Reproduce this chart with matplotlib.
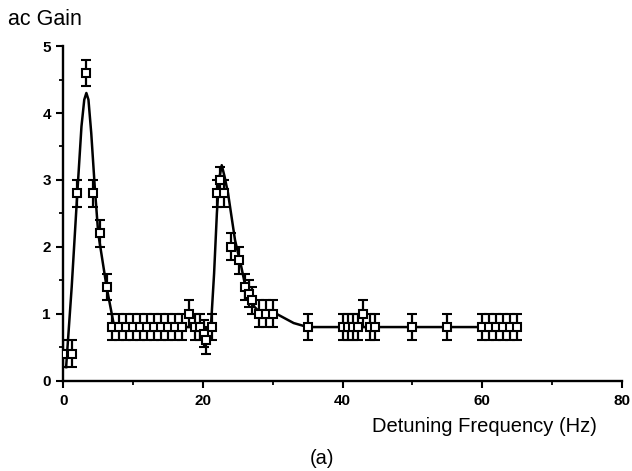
import matplotlib
matplotlib.use("Agg")
import matplotlib.pyplot as plt
from matplotlib.ticker import MultipleLocator

plt.rcParams['font.family'] = ['Liberation Sans', 'DejaVu Sans']

# measured points (detuning frequency in Hz, ac gain)
freq = [0, 1.2, 2.0, 3.3, 4.2, 5.2, 6.2,
        7, 8, 9, 10, 11, 12, 13, 14, 15, 16, 17,
        18, 18.8, 19.6, 20.1, 20.5, 21.3,
        22.0, 22.5, 23.0, 24.0, 25.2, 26.0, 26.6, 27.1, 28.1, 29.0, 30.0,
        35, 40, 40.8, 41.5, 42.2, 43.0, 43.9, 44.6, 50, 55,
        60, 61, 62, 63, 64, 65]
gain = [0.4, 0.4, 2.8, 4.6, 2.8, 2.2, 1.4,
        0.8, 0.8, 0.8, 0.8, 0.8, 0.8, 0.8, 0.8, 0.8, 0.8, 0.8,
        1.0, 0.8, 0.8, 0.7, 0.6, 0.8,
        2.8, 3.0, 2.8, 2.0, 1.8, 1.4, 1.3, 1.2, 1.0, 1.0, 1.0,
        0.8, 0.8, 0.8, 0.8, 0.8, 1.0, 0.8, 0.8, 0.8, 0.8,
        0.8, 0.8, 0.8, 0.8, 0.8, 0.8]
gain_err = [0.2] * len(freq)

# fitted curve
curve_x = [0.4, 1.2, 2.0, 2.6, 3.0, 3.3, 3.6, 4.0, 4.5, 5.0, 6.2, 7.3,
           12, 19, 20.5, 20.9, 21.2, 21.6, 22.0, 22.3, 22.7, 23.1, 23.6,
           24.6, 25.5, 26.2, 27.4, 28.4, 30.5, 33, 35, 50, 65]
curve_y = [0.2, 1.4, 2.8, 3.8, 4.2, 4.3, 4.2, 3.7, 2.9, 2.2, 1.4, 0.8,
           0.8, 0.8, 0.75, 0.75, 0.9, 1.6, 2.5, 3.0, 3.22, 3.05, 2.8,
           2.1, 1.7, 1.35, 1.1, 1.0, 1.0, 0.86, 0.8, 0.8, 0.8]

x_ticks = [0, 20, 40, 60, 80]
y_ticks = [0, 1, 2, 3, 4, 5]

fig = plt.figure(figsize=(6.32, 4.71), dpi=100)
ax = fig.add_axes([0.1002, 0.192, 0.8835, 0.710])

ax.plot(curve_x, curve_y, color='black', lw=1.8, zorder=2)
ax.errorbar(freq, gain, yerr=gain_err, fmt='s', mfc='white', mec='black',
            mew=1.5, ms=5.8, ecolor='black', elinewidth=1.6, capsize=3.5,
            capthick=1.6, zorder=3)

ax.set_xlim(0, 80)
ax.set_ylim(0, 5)
ax.set_xticks(x_ticks)
ax.set_yticks(y_ticks)
ax.xaxis.set_minor_locator(MultipleLocator(10))
ax.yaxis.set_minor_locator(MultipleLocator(0.5))
for s in ['top', 'right']:
    ax.spines[s].set_visible(False)
for s in ['left', 'bottom']:
    ax.spines[s].set_linewidth(1.7)
ax.tick_params(which='major', direction='out', length=5, width=1.5,
               labelsize=11)
ax.tick_params(axis='x', which='major', pad=5)
ax.tick_params(axis='y', which='major', pad=4)
ax.tick_params(which='minor', direction='out', length=3, width=1.3)
for lab in ax.get_xticklabels() + ax.get_yticklabels():
    lab.set_fontweight('bold')

fig.text(0.013, 0.958, 'ac Gain', fontsize=15.5, ha='left', va='center')
fig.text(0.944, 0.094, 'Detuning Frequency (Hz)', fontsize=14.5,
         ha='right', va='center')
fig.text(0.51, 0.026, '(a)', fontsize=14.5, ha='center', va='center')

fig.savefig('out.png', dpi=100)
